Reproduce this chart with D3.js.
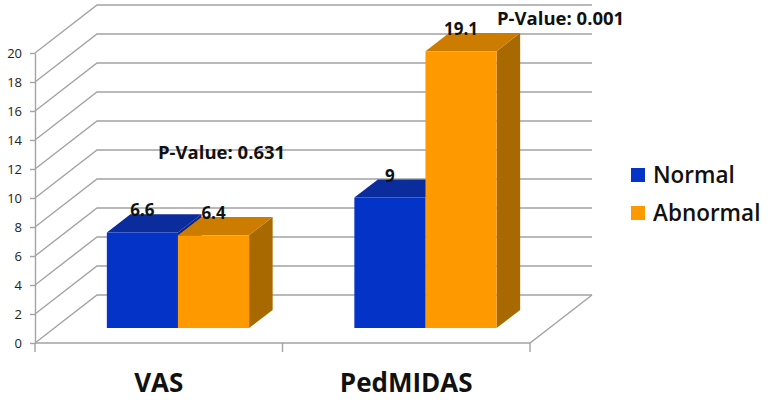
<!DOCTYPE html>
<html>
<head>
<meta charset="utf-8">
<script src="https://cdn.jsdelivr.net/npm/d3@7/dist/d3.min.js"></script>
<style>
  html, body { margin:0; padding:0; background:#fff; }
  svg { display:block; font-family:"Open Sans", "Noto Sans", sans-serif; }
</style>
</head>
<body>
<svg id="Vis" width="768" height="402"></svg>
<script>
var categories = ["VAS", "PedMIDAS"];
var seriesNames = ["Normal", "Abnormal"];
var normalValues = [6.6, 9];
var abnormalValues = [6.4, 19.1];
var pValueLabels = ["P-Value: 0.631", "P-Value: 0.001"];
var yTicks = [0, 2, 4, 6, 8, 10, 12, 14, 16, 18, 20];

var colors = {
  Normal:   {front:"#0433c8", top:"#0b2c9c", side:"#0a2484"},
  Abnormal: {front:"#ff9900", top:"#cc7d00", side:"#a86a00"}
};

var svg = d3.select("#Vis");
var gridColor = "#a3a3a3";

// 3d depth of the plot box, and the slab the bars sit in
var depthX = 62, depthY = -48;
var barDepth0 = 0.31, barDepth1 = 0.69;

var y = d3.scaleLinear().domain([0, 20]).range([343, 53]);
var x = d3.scaleBand().domain(categories).range([35, 530]);
var xs = d3.scaleBand().domain(seriesNames).range([0, x.bandwidth()]).paddingInner(0).paddingOuter(0.74);

function proj(px, val, depth){
  return [px + depth*depthX, y(val) + depth*depthY];
}

var x0 = x.range()[0], x1 = x.range()[1];

// left wall diagonals + back wall gridlines
var grid = svg.append("g");
yTicks.forEach(function(t){
  var a = proj(x0, t, 0), b = proj(x0, t, 1), c = proj(x1, t, 1);
  grid.append("polyline")
      .attr("points", [a, b, c].map(function(p){ return p.join(","); }).join(" "))
      .attr("fill", "none")
      .attr("stroke", gridColor)
      .attr("stroke-width", 1.4);
});

// floor
var f1 = proj(x0, 0, 0), f2 = proj(x1, 0, 0), f3 = proj(x1, 0, 1);
grid.append("polyline")
    .attr("points", [f1, f2, f3].map(function(p){ return p.join(","); }).join(" "))
    .attr("fill", "none")
    .attr("stroke", gridColor)
    .attr("stroke-width", 1.4);

// x ticks at category boundaries
var xTickPos = categories.map(function(c){ return x(c); }).concat([x1]);
grid.selectAll("line.xtick")
    .data(xTickPos)
    .enter()
    .append("line")
    .attr("class", "xtick")
    .attr("x1", function(d){ return d; })
    .attr("x2", function(d){ return d; })
    .attr("y1", y(0))
    .attr("y2", y(0) + 9)
    .attr("stroke", gridColor)
    .attr("stroke-width", 1.4);

// y axis
var yAxis = svg.append("g")
    .attr("transform", "translate(" + x0 + ",0)")
    .call(d3.axisLeft(y).tickValues(yTicks).tickSize(5).tickSizeOuter(0).tickPadding(8));
yAxis.select(".domain").attr("stroke", gridColor).attr("stroke-width", 1.4);
yAxis.selectAll(".tick line").attr("stroke", gridColor).attr("stroke-width", 1.4);
yAxis.selectAll(".tick text")
    .attr("fill", "#222")
    .style("font-size", "13px")
    .style("font-family", "'Open Sans', sans-serif");

// bars
var barData = [];
categories.forEach(function(c, i){
  barData.push({cat:c, series:"Normal", value:normalValues[i]});
  barData.push({cat:c, series:"Abnormal", value:abnormalValues[i]});
});

var bars = svg.append("g");
barData.forEach(function(d){
  var left = x(d.cat) + xs(d.series);
  var right = left + xs.bandwidth();
  var col = colors[d.series];
  var fl0 = proj(left, 0, barDepth0), fr0 = proj(right, 0, barDepth0);
  var flt = proj(left, d.value, barDepth0), frt = proj(right, d.value, barDepth0);
  var blt = proj(left, d.value, barDepth1), brt = proj(right, d.value, barDepth1);
  var br0 = proj(right, 0, barDepth1);
  var pts = function(a){ return a.map(function(p){ return p.join(","); }).join(" "); };

  bars.append("polygon").attr("points", pts([fr0, br0, brt, frt])).attr("fill", col.side);
  bars.append("polygon").attr("points", pts([flt, frt, brt, blt])).attr("fill", col.top);
  bars.append("polygon").attr("points", pts([fl0, fr0, frt, flt])).attr("fill", col.front);
  d.labelX = (fl0[0] + fr0[0]) / 2;
  d.labelY = flt[1] - 16;
});

svg.append("g").selectAll("text")
   .data(barData)
   .enter()
   .append("text")
   .attr("x", function(d){ return d.labelX; })
   .attr("y", function(d){ return d.labelY; })
   .attr("text-anchor", "middle")
   .style("font-size", "17px")
   .style("font-weight", "bold")
   .attr("fill", "#111")
   .text(function(d){ return d.value; });

// p-values
var pPos = [[158, 159], [497, 25]];
svg.append("g").selectAll("text")
   .data(pValueLabels)
   .enter()
   .append("text")
   .attr("x", function(d, i){ return pPos[i][0]; })
   .attr("y", function(d, i){ return pPos[i][1]; })
   .style("font-size", "18.5px")
   .style("font-weight", "bold")
   .attr("fill", "#111")
   .text(function(d){ return d; });

// category labels
svg.append("g").selectAll("text")
   .data(categories)
   .enter()
   .append("text")
   .attr("x", function(d){ return x(d) + x.bandwidth()/2; })
   .attr("y", 392)
   .attr("text-anchor", "middle")
   .style("font-size", "26px")
   .style("font-weight", "bold")
   .attr("fill", "#111")
   .text(function(d){ return d; });

// legend
var legend = svg.append("g").attr("transform", "translate(631,168)");
seriesNames.forEach(function(s, i){
  legend.append("rect")
        .attr("x", 0).attr("y", i*38)
        .attr("width", 14).attr("height", 14)
        .attr("fill", colors[s].front);
  legend.append("text")
        .attr("x", 22).attr("y", i*38 + 15)
        .style("font-size", "22.5px")
        .style("font-weight", "600")
        .attr("fill", "#111")
        .text(s);
});
</script>
</body>
</html>
